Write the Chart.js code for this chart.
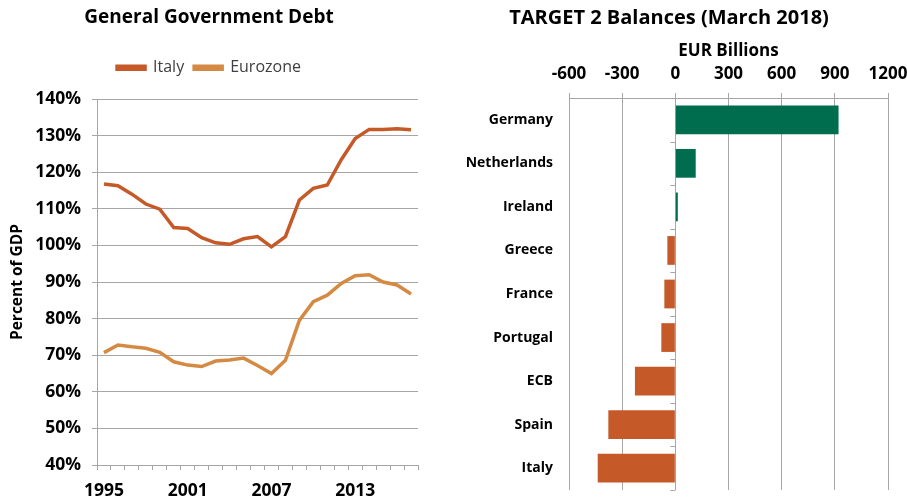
<!DOCTYPE html>
<html>
<head>
<meta charset="utf-8">
<script src="https://cdn.jsdelivr.net/npm/chart.js@4.4.1/dist/chart.umd.min.js"></script>
<style>
  html, body { margin: 0; padding: 0; background: #fff; }
  #wrap { position: relative; width: 907px; height: 502px; }
  #left { position: absolute; left: 0; top: 0; width: 450px; height: 502px; }
  #right { position: absolute; left: 450px; top: 0; width: 457px; height: 502px; }
</style>
</head>
<body>
<div id="wrap">
  <div id="left"><canvas id="debtChart"></canvas></div>
  <div id="right"><canvas id="targetChart"></canvas></div>
</div>
<script>
// data
const years = ['1995','1996','1997','1998','1999','2000','2001','2002','2003','2004','2005','2006',
               '2007','2008','2009','2010','2011','2012','2013','2014','2015','2016','2017'];
const italyDebt = [116.8, 116.3, 114.0, 111.3, 109.9, 104.9, 104.6, 102.1, 100.7, 100.3, 101.8, 102.4,
                   99.6, 102.4, 112.4, 115.6, 116.5, 123.4, 129.2, 131.7, 131.7, 131.9, 131.6];
const eurozoneDebt = [70.7, 72.8, 72.3, 71.9, 70.8, 68.2, 67.3, 66.9, 68.4, 68.7, 69.2, 67.2,
                      65.0, 68.6, 79.5, 84.6, 86.4, 89.6, 91.7, 92.0, 90.0, 89.2, 86.7];
const debtAxis = { min: 40, max: 140, step: 10 };

const countries = ['Germany', 'Netherlands', 'Ireland', 'Greece', 'France', 'Portugal', 'ECB', 'Spain', 'Italy'];
const target2 = [921, 115, 14, -45, -62, -79, -228, -378, -438];
const balanceAxis = { min: -600, max: 1200, step: 300 };

const FONT = '"Open Sans", "Liberation Sans", sans-serif';
const ITALY_COL = '#C55A28';
const EURO_COL = '#D58A43';
const GREEN = '#006D4E';
const GRID = '#A6A6A6';

Chart.defaults.font.family = FONT;
Chart.defaults.color = '#000';

// 1. LEFT: debt lines
new Chart(document.getElementById('debtChart'), {
    type: 'line',
    data: {
        labels: years,
        datasets: [
            { label: 'Italy', data: italyDebt, borderColor: ITALY_COL, backgroundColor: ITALY_COL, borderWidth: 3.5, pointRadius: 0, tension: 0 },
            { label: 'Eurozone', data: eurozoneDebt, borderColor: EURO_COL, backgroundColor: EURO_COL, borderWidth: 3.5, pointRadius: 0, tension: 0 }
        ]
    },
    options: {
        responsive: true,
        maintainAspectRatio: false,
        animation: false,
        layout: { padding: { left: 0, right: 32, top: 6, bottom: 0 } },
        plugins: {
            title: {
                display: true,
                text: 'General Government Debt',
                font: { size: 19, weight: 'bold' },
                color: '#000',
                padding: { top: 0, bottom: 21 }
            },
            legend: {
                labels: { boxWidth: 28, boxHeight: 3, font: { size: 16 }, color: '#404040', padding: 10 }
            },
            // empty spacer under the legend
            subtitle: {
                display: true,
                text: ' ',
                weight: 500,
                font: { size: 1 },
                padding: { top: 0, bottom: 12 }
            },
            tooltip: { enabled: false }
        },
        scales: {
            x: {
                offset: true,
                afterFit: s => { s.height = 37; },
                grid: { drawOnChartArea: false, offset: true, tickLength: 5, color: GRID },
                border: { color: GRID },
                ticks: {
                    autoSkip: false, maxRotation: 0, padding: 11,
                    font: { size: 17.5, weight: 'bold' },
                    callback: (v, i) => i % 6 === 0 ? years[i] : ''
                }
            },
            y: {
                min: debtAxis.min, max: debtAxis.max,
                afterFit: s => { s.width = 97; },
                ticks: { stepSize: debtAxis.step, padding: 11, font: { size: 17.5, weight: 'bold' }, callback: v => v + '%' },
                grid: { color: GRID, tickLength: 5 },
                border: { color: GRID },
                title: { display: true, text: 'Percent of GDP', font: { size: 15.5, weight: 'bold' }, padding: 8 }
            }
        }
    }
});

// zero-line tick marks on the category axis
const zeroTicks = {
    id: 'zeroTicks',
    afterDatasetsDraw(chart) {
        const { ctx, scales: { x, y } } = chart;
        const x0 = x.getPixelForValue(0);
        const step = (y.bottom - y.top) / countries.length;
        ctx.save();
        ctx.strokeStyle = GRID;
        ctx.lineWidth = 1;
        for (let i = 1; i <= countries.length; i++) {
            const yy = Math.round(y.top + i * step) + 0.5;
            ctx.beginPath();
            ctx.moveTo(x0 - 5, yy);
            ctx.lineTo(x0, yy);
            ctx.stroke();
        }
        ctx.restore();
    }
};

// 2. RIGHT: TARGET 2 bars
new Chart(document.getElementById('targetChart'), {
    type: 'bar',
    data: {
        labels: countries,
        datasets: [{
            data: target2,
            backgroundColor: target2.map(v => v >= 0 ? GREEN : ITALY_COL),
            categoryPercentage: 1,
            barPercentage: 0.66
        }]
    },
    plugins: [zeroTicks],
    options: {
        indexAxis: 'y',
        responsive: true,
        maintainAspectRatio: false,
        animation: false,
        layout: { padding: { left: 0, right: 19, top: 6, bottom: 12 } },
        plugins: {
            title: {
                display: true,
                text: 'TARGET 2 Balances (March 2018)',
                font: { size: 20, weight: 'bold' },
                color: '#000',
                padding: { top: 0, bottom: 0 }
            },
            legend: { display: false },
            tooltip: { enabled: false }
        },
        scales: {
            x: {
                position: 'top',
                min: balanceAxis.min, max: balanceAxis.max,
                afterFit: s => { s.height = 68; s.paddingLeft = 0; s.paddingRight = 0; },
                ticks: { stepSize: balanceAxis.step, padding: 9, font: { size: 17, weight: 'bold' }, callback: v => String(v) },
                grid: { color: GRID, tickLength: 5 },
                border: { color: GRID },
                title: { display: true, text: 'EUR Billions', font: { size: 17, weight: 'bold' }, padding: { top: 11, bottom: 0 } }
            },
            y: {
                afterFit: s => { s.width = 119; s.paddingTop = 0; s.paddingBottom = 0; },
                ticks: { padding: 8, font: { size: 14, weight: 'bold' } },
                grid: { display: false },
                border: { display: false }
            }
        }
    }
});
</script>
</body>
</html>
